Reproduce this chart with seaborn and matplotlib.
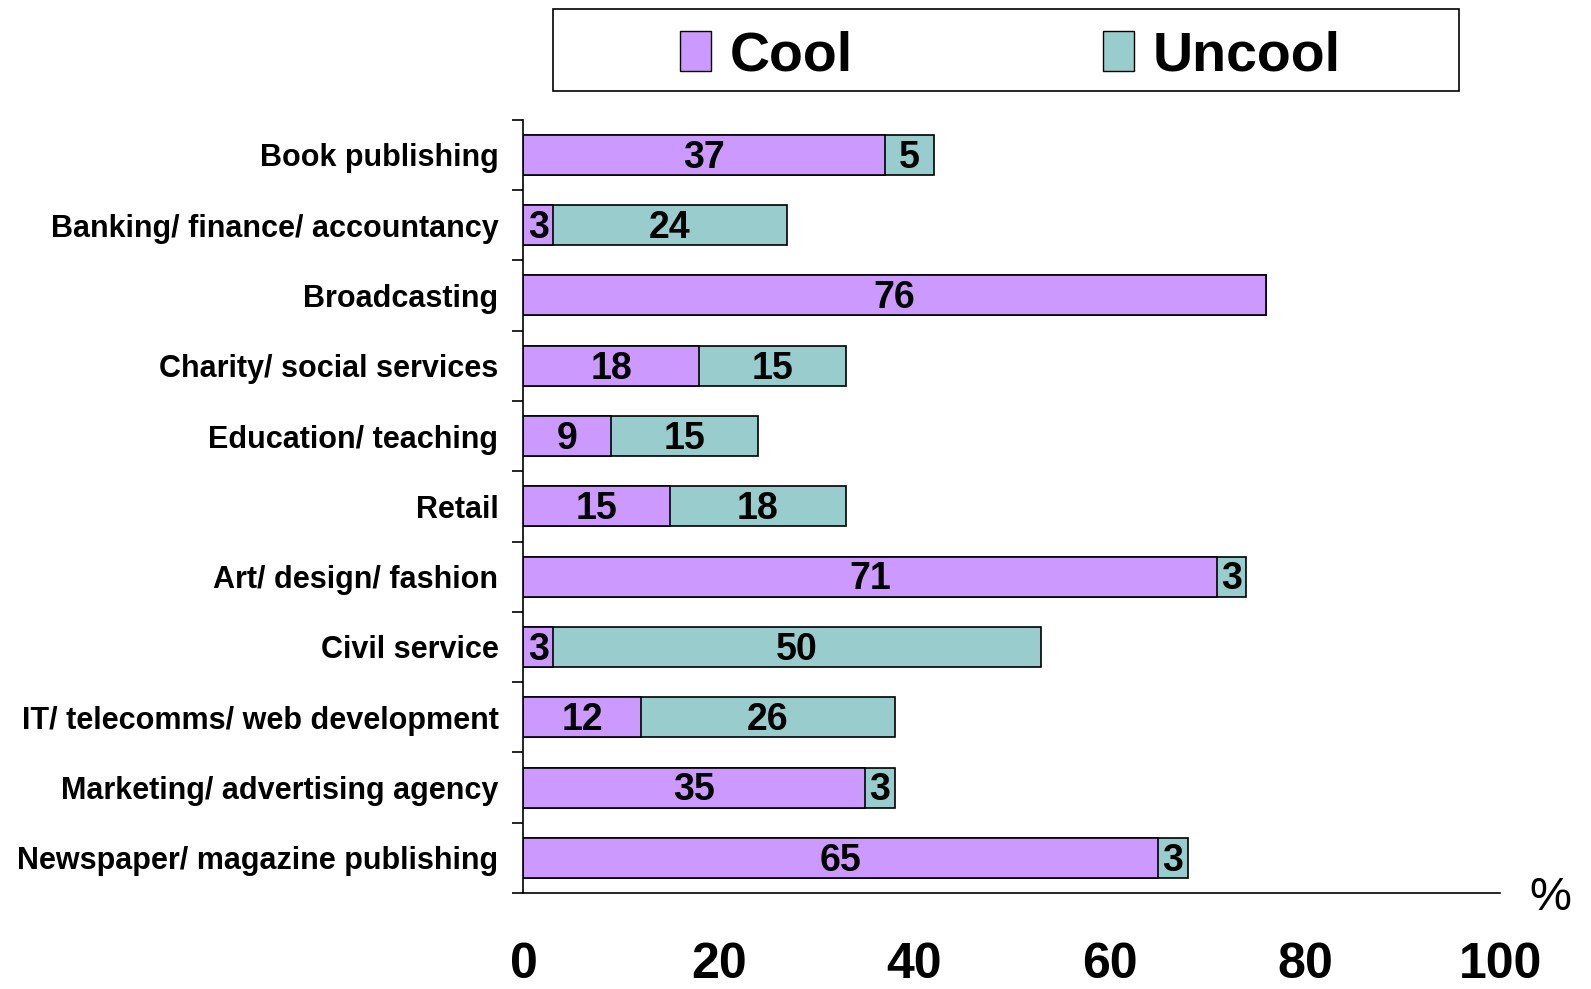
import numpy as np
import pandas as pd
import seaborn as sns
import matplotlib.pyplot as plt
from matplotlib.patches import Patch, Rectangle

CATEGORIES = ['Book publishing', 'Banking/ finance/ accountancy', 'Broadcasting',
              'Charity/ social services', 'Education/ teaching', 'Retail',
              'Art/ design/ fashion', 'Civil service', 'IT/ telecomms/ web development',
              'Marketing/ advertising agency', 'Newspaper/ magazine publishing']
COOL = [37, 3, 76, 18, 9, 15, 71, 3, 12, 35, 65]
UNCOOL = [5, 24, 0, 15, 15, 18, 3, 50, 26, 3, 3]
X_TICKS = [0, 20, 40, 60, 80, 100]

COOL_COLOR = '#CC99FF'
UNCOOL_COLOR = '#99CCCC'

sns.set_theme(style='white')
plt.rcParams['font.family'] = ['Liberation Sans', 'DejaVu Sans']
plt.rcParams['text.color'] = 'black'
plt.rcParams['xtick.color'] = 'black'
plt.rcParams['ytick.color'] = 'black'

df = pd.DataFrame({'category': CATEGORIES, 'cool': COOL, 'uncool': UNCOOL})
df['total'] = df['cool'] + df['uncool']

fig = plt.figure(figsize=(15.91, 9.89), dpi=100)
ax = fig.add_axes([0.329, 0.097, 0.614, 0.782])

# total bar first (uncool colour), cool segment drawn over it
sns.barplot(data=df, x='total', y='category', orient='h', color=UNCOOL_COLOR,
            edgecolor='black', linewidth=1.2, width=0.57, saturation=1, ax=ax)
sns.barplot(data=df, x='cool', y='category', orient='h', color=COOL_COLOR,
            edgecolor='black', linewidth=1.2, width=0.57, saturation=1, ax=ax)

for i, row in df.iterrows():
    if row['cool'] > 0:
        ax.text(row['cool'] / 2, i + 0.04, str(row['cool']), ha='center', va='center',
                fontsize=27, fontweight='bold', color='black')
    if row['uncool'] > 0:
        ax.text(row['cool'] + row['uncool'] / 2, i + 0.04, str(row['uncool']), ha='center',
                va='center', fontsize=27, fontweight='bold', color='black')

ax.set_xlim(0, 100)
ax.set_ylim(len(CATEGORIES) - 0.5, -0.5)
ax.set_xlabel('')
ax.set_ylabel('')
ax.set_xticks(X_TICKS)
ax.set_xticklabels([str(t) for t in X_TICKS], fontsize=36, fontweight='bold')
ax.tick_params(axis='x', direction='out', length=10, width=1.2, pad=25, color='black')
ax.set_yticks(range(len(CATEGORIES)))
ax.set_yticklabels(CATEGORIES, fontsize=22, fontweight='bold')
ax.tick_params(axis='y', which='major', length=0, pad=18)
ax.set_yticks(np.arange(-0.5, len(CATEGORIES)), minor=True)
ax.tick_params(axis='y', which='minor', direction='out', length=8, width=1.2, color='black', left=True)

sns.despine(ax=ax, top=True, right=True)
for s in ['left', 'bottom']:
    ax.spines[s].set_color('black')
    ax.spines[s].set_linewidth(1.2)

ax.text(1.051, -0.006, '%', transform=ax.transAxes, fontsize=34,
        ha='center', va='center')

# legend frame and entries
fig.patches.append(Rectangle((0.3476, 0.908), 0.5694, 0.083, transform=fig.transFigure,
                             fill=False, edgecolor='black', linewidth=1.2))
handles = [Patch(facecolor=COOL_COLOR, edgecolor='black', label='Cool'),
           Patch(facecolor=UNCOOL_COLOR, edgecolor='black', label='Uncool')]
fig.legend(handles=handles, loc='center', bbox_to_anchor=(0.635, 0.943), ncol=2,
           frameon=False, prop={'weight': 'bold', 'size': 40},
           handlelength=0.56, handleheight=0.72, handletextpad=0.33, columnspacing=4.5)

fig.savefig('out.png', dpi=100)
